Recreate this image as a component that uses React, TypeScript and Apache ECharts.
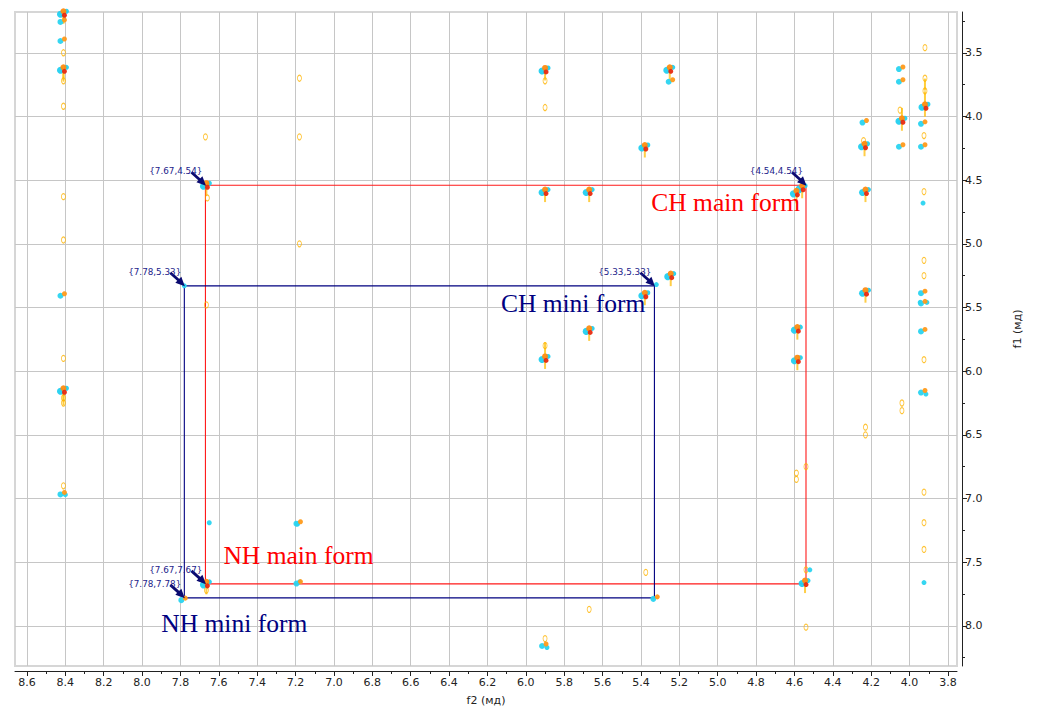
import React, { useEffect, useRef } from "react";
import * as echarts from "echarts";

// ---------- axis ranges & ticks (ppm) ----------
const f2Limits = [3.753, 8.6625];
const f1Limits = [3.18, 8.315];
const f2Ticks = [8.6, 8.4, 8.2, 8.0, 7.8, 7.6, 7.4, 7.2, 7.0, 6.8, 6.6, 6.4, 6.2, 6.0, 5.8, 5.6, 5.4, 5.2, 5.0, 4.8, 4.6, 4.4, 4.2, 4.0, 3.8];
const f2MinorTicks = [8.5, 8.3, 8.1, 7.9, 7.7, 7.5, 7.3, 7.1, 6.9, 6.7, 6.5, 6.3, 6.1, 5.9, 5.7, 5.5, 5.3, 5.1, 4.9, 4.7, 4.5, 4.3, 4.1, 3.9];
const f1Ticks = [3.5, 4.0, 4.5, 5.0, 5.5, 6.0, 6.5, 7.0, 7.5, 8.0];
const f1MinorTicks = [3.25, 3.75, 4.25, 4.75, 5.25, 5.75, 6.25, 6.75, 7.25, 7.75, 8.25];

// ---------- cross peaks [f2, f1] ----------
const strongPeaks = [
  [8.41, 3.19], [8.41, 3.63], [8.41, 6.15], [7.665, 4.54], [7.665, 7.67],
  [5.9, 3.635], [5.25, 3.63], [5.38, 4.24], [5.9, 4.59], [5.67, 4.59],
  [4.56, 4.56], [4.59, 4.6], [5.245, 5.25], [5.38, 5.4], [5.67, 5.68],
  [5.9, 5.9], [4.585, 5.67], [4.585, 5.91], [4.23, 5.38], [4.545, 7.66],
  [4.235, 4.23], [4.23, 4.59], [4.04, 4.03], [3.92, 3.92],
];
const mediumPeaks = [
  [8.41, 3.25], [8.41, 3.4], [8.41, 5.4], [8.41, 6.96], [7.78, 7.79],
  [7.18, 7.19], [5.24, 3.72], [4.23, 4.04], [4.04, 3.62], [4.04, 3.72],
  [4.04, 4.23], [3.925, 4.05], [3.925, 4.23], [3.925, 5.38], [3.925, 5.46],
  [3.925, 5.68], [3.925, 6.16], [5.32, 7.78], [5.9, 8.15], [7.18, 7.66],
];
const negativePeaks = [
  [7.78, 5.33], [5.32, 5.32], [7.65, 7.19], [7.18, 7.655], [3.925, 7.66],
  [4.52, 7.56], [3.93, 4.68], [3.91, 5.46], [3.945, 5.46], [3.915, 6.18],
  [7.19, 7.2], [8.4, 6.97], [5.89, 8.17],
];
const weakPeaks = [
  [8.41, 3.5], [8.41, 3.72], [8.41, 3.92], [8.41, 4.63], [8.41, 4.97],
  [8.41, 5.9], [8.41, 6.25], [8.41, 6.9], [7.67, 4.16], [7.66, 4.64],
  [7.18, 3.7], [7.18, 4.16], [7.18, 5.0], [7.665, 5.48], [5.9, 3.72],
  [5.9, 3.93], [5.9, 5.8], [3.92, 3.46], [3.92, 3.7], [3.92, 3.8],
  [3.925, 4.15], [3.925, 4.59], [3.925, 5.13], [3.925, 5.25], [3.925, 5.91],
  [3.925, 6.95], [3.925, 7.19], [3.925, 7.4], [4.04, 6.25], [4.04, 6.31],
  [4.23, 6.44], [4.23, 6.5], [4.54, 6.75], [4.59, 6.8], [4.59, 6.85],
  [4.54, 7.56], [4.54, 8.01], [5.375, 7.58], [5.67, 7.87], [4.05, 3.95],
  [5.9, 8.1], [7.665, 7.72], [8.41, 6.21], [4.24, 4.19],
];
// elongated weak ridges (t1 noise streaks)
const weakRidges = [
  [8.41, 3.22], [8.41, 3.68], [3.92, 3.75], [3.92, 3.85], [4.04, 3.98], [8.41, 6.22], [5.9, 5.82],
];

// ---------- spin systems: [NH shift, CH shift] ----------
const mainForm = [7.67, 4.54];
const miniForm = [7.78, 5.33];
const formNames = ["CH main form", "CH mini form", "NH main form", "NH mini form"];

const fmt = (v: number) => v.toFixed(2);

function rectPath(f: number[]) {
  const [nh, ch] = f;
  return [[nh, ch], [ch, ch], [ch, nh], [nh, nh], [nh, ch]];
}

// annotated corners
const cornerPoints = [
  [mainForm[0], mainForm[1]],
  [mainForm[1], mainForm[1]],
  [miniForm[0], miniForm[1]],
  [miniForm[1], miniForm[1]],
  [mainForm[0], mainForm[0]],
  [miniForm[0], miniForm[0]],
];
// form label anchors (diagonal corners)
const formAnchors = [
  [mainForm[1], mainForm[1]],
  [miniForm[1], miniForm[1]],
  [mainForm[0], mainForm[0]],
  [miniForm[0], miniForm[0]],
];
const formStyles = [
  { dx: -6, dy: 17, align: "right", color: "#ff0000" },
  { dx: -9, dy: 18, align: "right", color: "#000080" },
  { dx: 18, dy: -28, align: "left", color: "#ff0000" },
  { dx: -23, dy: 26, align: "left", color: "#000080" },
];

const NAVY = "#0a0a70";

export default function App() {
  const ref = useRef<HTMLDivElement>(null);
  useEffect(() => {
    if (!ref.current) return;
    const chart = echarts.init(ref.current, null, { renderer: "svg" });

    const scatter = (data: number[][], size: any, color: string, offset: number[], extra: any = {}) => ({
      type: "scatter",
      data,
      symbol: "circle",
      symbolSize: size,
      symbolOffset: offset,
      itemStyle: { color, opacity: 0.95, ...extra },
      silent: true,
      z: 4,
    });

    const axisCommon = {
      type: "value",
      splitNumber: 20,
    };

    chart.setOption({
      animation: false,
      backgroundColor: "#ffffff",
      grid: {
        left: 15,
        right: 83,
        top: 12,
        bottom: 43,
        show: true,
        borderColor: "#d6d6d6",
        borderWidth: 2,
      },
      xAxis: [
        {
          ...axisCommon,
          min: f2Limits[0],
          max: f2Limits[1],
          inverse: true,
          position: "bottom",
          offset: 5,
          name: "f2 (мд)",
          nameLocation: "middle",
          nameGap: 24,
          nameTextStyle: { fontFamily: "DejaVu Sans", fontSize: 11, color: "#222" },
          axisLine: { show: true, onZero: false, lineStyle: { color: "#222", width: 1 } },
          axisTick: { show: true, length: 5, customValues: f2Ticks, lineStyle: { color: "#222" } },
          axisLabel: {
            customValues: f2Ticks,
            formatter: (v: number) => v.toFixed(1),
            fontFamily: "DejaVu Sans",
            fontSize: 11,
            color: "#222",
            margin: 6,
          },
          splitLine: { show: true, lineStyle: { color: "#c6c6c6", width: 1 } },
        },
        {
          ...axisCommon,
          min: f2Limits[0],
          max: f2Limits[1],
          inverse: true,
          position: "bottom",
          offset: 5,
          axisLine: { show: false },
          axisTick: { show: true, length: 3, customValues: f2MinorTicks, lineStyle: { color: "#222" } },
          axisLabel: { show: false },
          splitLine: { show: false },
        },
      ],
      yAxis: [
        {
          ...axisCommon,
          min: f1Limits[0],
          max: f1Limits[1],
          inverse: true,
          position: "right",
          offset: 5,
          name: "f1 (мд)",
          nameLocation: "middle",
          nameRotate: 90,
          nameGap: 50,
          nameTextStyle: { fontFamily: "DejaVu Sans", fontSize: 11, color: "#222", padding: [0, 0, 0, 20] },
          axisLine: { show: true, onZero: false, lineStyle: { color: "#222", width: 1 } },
          axisTick: { show: true, length: 5, customValues: f1Ticks, lineStyle: { color: "#222" } },
          axisLabel: {
            customValues: f1Ticks,
            formatter: (v: number) => v.toFixed(1),
            fontFamily: "DejaVu Sans",
            fontSize: 11,
            color: "#222",
            margin: 3,
          },
          splitLine: { show: true, lineStyle: { color: "#c6c6c6", width: 1 } },
        },
        {
          ...axisCommon,
          min: f1Limits[0],
          max: f1Limits[1],
          inverse: true,
          position: "right",
          offset: 5,
          axisLine: { show: false },
          axisTick: { show: true, length: 3, customValues: f1MinorTicks, lineStyle: { color: "#222" } },
          axisLabel: { show: false },
          splitLine: { show: false },
        },
      ],
      series: [
        {
          type: "line",
          data: rectPath(mainForm),
          showSymbol: false,
          silent: true,
          lineStyle: { color: "#ff1a1a", width: 1.1 },
          z: 3,
        },
        {
          type: "line",
          data: rectPath(miniForm),
          showSymbol: false,
          silent: true,
          lineStyle: { color: "#000080", width: 1.1 },
          z: 3,
        },
        // weak ridges
        {
          type: "scatter",
          data: weakRidges,
          symbol: "rect",
          symbolSize: [2, 12],
          itemStyle: { color: "#ffc61a", opacity: 0.85 },
          silent: true,
          z: 3,
        },
        // weak positive contours (yellow rings)
        {
          type: "scatter",
          data: weakPeaks,
          symbol: "circle",
          symbolSize: [4, 6],
          itemStyle: { color: "rgba(255,255,255,0)", borderColor: "#ffb400", borderWidth: 1 },
          silent: true,
          z: 4,
        },
        // negative contours
        scatter(negativePeaks, 5, "#2ad4f0", [0, 0]),
        // medium peaks
        scatter(mediumPeaks, 6, "#2ad4f0", [-3, 1]),
        scatter(mediumPeaks, 5, "#ff9a1a", [1, -1]),
        // strong peaks
        scatter(strongPeaks, 7, "#22d0f0", [-3, 1]),
        scatter(strongPeaks, 5, "#22d0f0", [3, -2]),
        scatter(strongPeaks, 6, "#ff8c10", [0, -2]),
        scatter(strongPeaks, 5, "#e82a10", [1, 2]),
        {
          type: "scatter",
          data: strongPeaks,
          symbol: "rect",
          symbolSize: [2, 9],
          symbolOffset: [0, 6],
          itemStyle: { color: "#ffc21a", opacity: 0.8 },
          silent: true,
          z: 3,
        },
        // corner annotations with arrows
        {
          type: "custom",
          data: cornerPoints,
          silent: true,
          z: 10,
          renderItem: (params: any, api: any) => {
            const x = api.value(0);
            const y = api.value(1);
            const p = api.coord([x, y]);
            return {
              type: "group",
              children: [
                {
                  type: "line",
                  shape: { x1: p[0] - 14, y1: p[1] - 13, x2: p[0] - 4, y2: p[1] - 4 },
                  style: { stroke: NAVY, lineWidth: 2.8 },
                },
                {
                  type: "polygon",
                  shape: { points: [[p[0] + 0.5, p[1] + 0.5], [p[0] - 9, p[1] - 3], [p[0] - 3, p[1] - 9]] },
                  style: { fill: NAVY },
                },
                {
                  type: "text",
                  style: {
                    text: "{" + fmt(x) + "," + fmt(y) + "}",
                    x: p[0] - 3,
                    y: p[1] - 14,
                    align: "right",
                    verticalAlign: "middle",
                    fontFamily: "DejaVu Sans",
                    fontSize: 8.8,
                    fill: "#1c1c8a",
                  },
                },
              ],
            };
          },
        },
        // form labels
        {
          type: "custom",
          data: formAnchors,
          silent: true,
          z: 11,
          renderItem: (params: any, api: any) => {
            const p = api.coord([api.value(0), api.value(1)]);
            const s = formStyles[params.dataIndex];
            return {
              type: "text",
              style: {
                text: formNames[params.dataIndex],
                x: p[0] + s.dx,
                y: p[1] + s.dy,
                align: s.align,
                verticalAlign: "middle",
                fontFamily: "Liberation Serif",
                fontSize: 25.5,
                fill: s.color,
              },
            };
          },
        },
      ],
    });
    return () => chart.dispose();
  }, []);
  return (
    <div
      ref={ref}
      style={{ position: "absolute", left: 0, top: 0, width: 1040, height: 711, background: "#fff" }}
    />
  );
}
